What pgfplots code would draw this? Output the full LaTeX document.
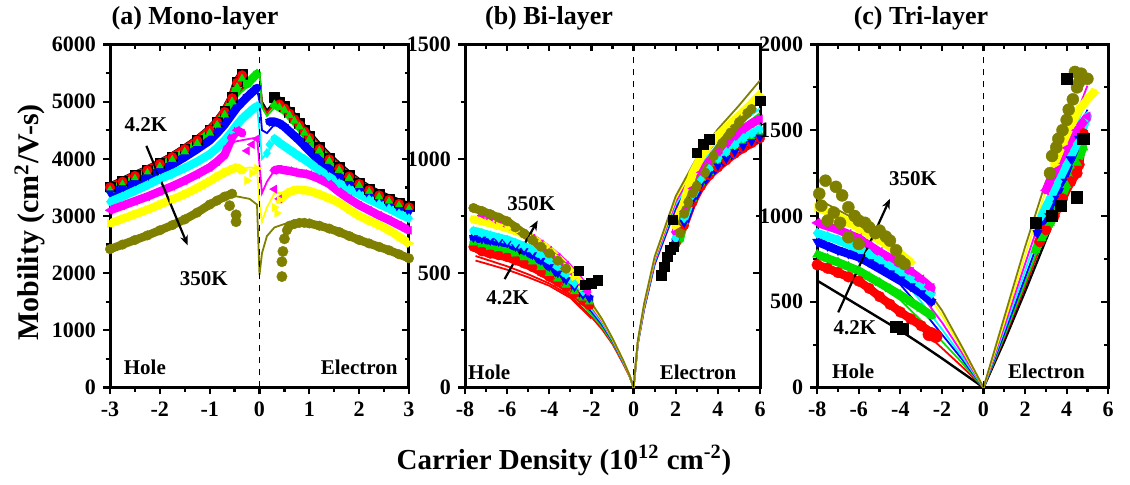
\documentclass[border=0pt]{standalone}
\usepackage{fontspec}
\setmainfont{Liberation Serif}
\usepackage{pgfplots}
\pgfplotsset{compat=1.18}
\usetikzlibrary{arrows.meta}
\definecolor{cR}{RGB}{255,0,0}
\definecolor{cG}{RGB}{0,225,0}
\definecolor{cB}{RGB}{0,0,255}
\definecolor{cC}{RGB}{0,255,255}
\definecolor{cM}{RGB}{255,0,255}
\definecolor{cY}{RGB}{255,255,0}
\definecolor{cO}{RGB}{128,128,0}
\tikzset{
  lab/.style={font=\fontsize{10.5}{10.5}\selectfont\bfseries},
  arr/.style={-{Stealth[length=5pt,width=4pt]}, line width=1.1pt, black},
}
\pgfplotsset{
  base/.style={scale only axis, height=171.5pt,
    axis line style={line width=1.5pt}, tick style={line width=1.1pt, black},
    major tick length=3.5pt, minor tick length=2.2pt,
    minor x tick num=1, minor y tick num=1, scaled ticks=false,
    /pgf/number format/1000 sep={}, /pgf/number format/assume math mode=true,
    tick label style={font=\fontsize{11}{11}\selectfont\bfseries},
    unbounded coords=jump,
    every axis plot/.append style={line width=0.9pt}},
  front/.style={base, tick align=outside, xtick pos=left, ytick pos=left},
  back/.style={base, tick align=inside, xtick pos=right, ytick pos=right, xticklabels={}, yticklabels={}},
  m0/.style={mark=square*, color=black, mark options={line width=0.2pt}},
  m1/.style={mark=*, color=cR, mark options={line width=0.2pt}},
  m2/.style={mark=triangle*, color=cG, mark options={line width=0.2pt}},
  m3/.style={mark=triangle*, color=cB, mark options={rotate=180, line width=0.2pt}},
  m4/.style={mark=diamond*, color=cC, mark options={line width=0.2pt}},
  m5/.style={mark=triangle*, color=cM, mark options={rotate=90, line width=0.2pt}},
  m6/.style={mark=triangle*, color=cY, mark options={rotate=270, line width=0.2pt}},
  m7/.style={mark=*, color=cO, mark options={line width=0.2pt}},
  sc/.style={only marks},
  bd/.style={line join=round, line cap=round},
}
\begin{document}
\begin{tikzpicture}
\path (0,0) rectangle (565pt,242pt);
% ---------------- (a) Mono-layer ----------------
\begin{axis}[back, at={(55pt,48.5pt)}, anchor=south west, width=149.5pt,
  xmin=-3, xmax=3, ymin=0, ymax=6000, xtick={-3,...,3}, ytick={0,1000,...,6000}]
\end{axis}
\begin{axis}[front, at={(55pt,48.5pt)}, anchor=south west, width=149.5pt,
  xmin=-3, xmax=3, ymin=0, ymax=6000, xtick={-3,...,3}, ytick={0,1000,...,6000},
  mark size=2.4pt, bd/.append style={line width=4.2pt}]
\addplot[black] coordinates {(-3,3520)(-2,3920)(-1,4510)(-0.5,5100)(-0.2,5350)(-0.05,5450)(0,5490)(0.05,5000)(0.15,4850)(0.3,5000)(0.5,4900)(1,4370)(2,3570)(3,3160)};
\addplot[cR] coordinates {(-3,3490)(-2,3900)(-1,4490)(-0.5,5080)(-0.2,5330)(-0.05,5440)(0,5480)(0.05,4950)(0.15,4800)(0.3,4960)(0.5,4870)(1,4360)(2,3550)(3,3140)};
\addplot[cG] coordinates {(-3,3450)(-2,3860)(-1,4450)(-0.5,5050)(-0.2,5300)(-0.05,5460)(0,5490)(0.05,4900)(0.15,4750)(0.3,4900)(0.5,4850)(1,4340)(2,3530)(3,3120)};
\addplot[cB] coordinates {(-3,3400)(-2,3790)(-1,4320)(-0.5,4850)(-0.2,5100)(-0.05,5220)(0,5000)(0.05,4500)(0.15,4450)(0.3,4600)(0.5,4560)(1,4140)(2,3440)(3,3060)};
\addplot[cC] coordinates {(-3,3250)(-2,3600)(-1,4080)(-0.5,4540)(-0.2,4800)(-0.05,4900)(0,4500)(0.05,4000)(0.15,4100)(0.3,4300)(0.5,4220)(1,3930)(2,3380)(3,2960)};
\addplot[cM] coordinates {(-3,3100)(-2,3430)(-1,3850)(-0.5,4300)(-0.2,4350)(-0.05,4370)(0,3900)(0.05,3400)(0.15,3600)(0.3,3800)(0.5,3800)(1,3720)(2,3190)(3,2750)};
\addplot[cY] coordinates {(-3,2870)(-2,3200)(-1,3610)(-0.5,3800)(-0.2,3850)(-0.05,3830)(0,3200)(0.05,2900)(0.15,3150)(0.3,3400)(0.5,3400)(1,3440)(2,3000)(3,2520)};
\addplot[cO] coordinates {(-3,2420)(-2,2750)(-1,3200)(-0.5,3350)(-0.2,3300)(-0.05,3200)(0,1970)(0.05,2350)(0.15,2650)(0.3,2800)(0.5,2860)(1,2870)(2,2580)(3,2260)};
\addplot[m0, bd] coordinates {(-3.0,3510)(-2.75,3610)(-2.5,3710)(-2.25,3810)(-2.0,3920)(-1.75,4040)(-1.5,4180)(-1.25,4330)(-1.0,4510)(-0.85,4650)(-0.7,4830)(-0.55,5075)(-0.45,5350)(-0.35,5480) (0,nan)
 (0.3,5080)(0.4,5000)(0.5,4920)(0.6,4820)(0.7,4720)(0.8,4620)(0.9,4510)(1.0,4400)(1.2,4200)(1.4,4020)(1.6,3860)(1.8,3710)(2.0,3580)(2.2,3470)(2.4,3380)(2.6,3300)(2.8,3230)(3.0,3170)};
\addplot[m1, bd] coordinates {(-3.0,3500)(-2.75,3600)(-2.5,3700)(-2.25,3800)(-2.0,3910)(-1.75,4030)(-1.5,4170)(-1.25,4320)(-1.0,4500)(-0.85,4640)(-0.7,4820)(-0.55,5060)(-0.45,5330)(-0.35,5460) (0,nan)
 (0.4,4950)(0.5,4880)(0.6,4790)(0.7,4690)(0.8,4590)(0.9,4480)(1.0,4370)(1.2,4170)(1.4,3990)(1.6,3830)(1.8,3690)(2.0,3560)(2.2,3450)(2.4,3360)(2.6,3280)(2.8,3210)(3.0,3150)};
\addplot[m2, bd] coordinates {(-3.0,3450)(-2.75,3550)(-2.5,3650)(-2.25,3750)(-2.0,3860)(-1.75,3980)(-1.5,4120)(-1.25,4270)(-1.0,4450)(-0.85,4590)(-0.7,4770)(-0.55,5000)(-0.45,5250)(-0.35,5400)(-0.25,5300)(-0.15,5400)(-0.05,5490) (0,nan)
 (0.3,4950)(0.4,4900)(0.5,4850)(0.6,4760)(0.7,4660)(0.8,4560)(0.9,4450)(1.0,4340)(1.2,4140)(1.4,3960)(1.6,3800)(1.8,3660)(2.0,3530)(2.2,3420)(2.4,3330)(2.6,3250)(2.8,3180)(3.0,3120)};
\addplot[m3, bd] coordinates {(-3.0,3400)(-2.75,3490)(-2.5,3580)(-2.25,3680)(-2.0,3790)(-1.75,3900)(-1.5,4030)(-1.25,4170)(-1.0,4320)(-0.85,4450)(-0.7,4600)(-0.55,4780)(-0.45,4900)(-0.35,4990)(-0.25,5080)(-0.15,5160)(-0.05,5240) (0,nan)
 (0.2,4650)(0.3,4650)(0.4,4620)(0.5,4560)(0.6,4480)(0.7,4400)(0.8,4320)(0.9,4230)(1.0,4140)(1.2,3970)(1.4,3820)(1.6,3680)(1.8,3550)(2.0,3440)(2.2,3340)(2.4,3250)(2.6,3170)(2.8,3110)(3.0,3060)};
\addplot[m4, bd] coordinates {(-3.0,3250)(-2.75,3340)(-2.5,3440)(-2.25,3540)(-2.0,3650)(-1.75,3740)(-1.5,3840)(-1.25,3950)(-1.0,4080)(-0.85,4190)(-0.7,4320)(-0.55,4480)(-0.45,4600)(-0.35,4700)(-0.25,4780)(-0.15,4860)(-0.05,4920) (0,nan)
 (0.3,4350)(0.4,4280)(0.5,4220)(0.6,4160)(0.7,4100)(0.8,4040)(0.9,3990)(1.0,3930)(1.2,3800)(1.4,3680)(1.6,3570)(1.8,3470)(2.0,3380)(2.2,3290)(2.4,3210)(2.6,3130)(2.8,3040)(3.0,2960)};
\addplot[m4, sc] coordinates {(0.15,4100)(0.2,4250)};
\addplot[m5, bd] coordinates {(-3.0,3100)(-2.75,3180)(-2.5,3260)(-2.25,3340)(-2.0,3430)(-1.75,3520)(-1.5,3620)(-1.25,3730)(-1.0,3850)(-0.85,3950)(-0.7,4070)(-0.55,4380)(-0.45,4500)(-0.35,4450) (0,nan)
 (0.3,3800)(0.4,3820)(0.5,3800)(0.6,3790)(0.7,3770)(0.8,3750)(0.9,3740)(1.0,3720)(1.2,3650)(1.4,3560)(1.6,3420)(1.8,3300)(2.0,3190)(2.2,3100)(2.4,3010)(2.6,2930)(2.8,2840)(3.0,2750)};
\addplot[m5, sc] coordinates {(-0.25,4140)(-0.15,4250)(-0.05,4350)(0.3,3470)(0.4,3300)};
\addplot[m6, bd] coordinates {(-3.0,2870)(-2.75,2950)(-2.5,3030)(-2.25,3110)(-2.0,3200)(-1.75,3290)(-1.5,3380)(-1.25,3490)(-1.0,3610)(-0.85,3690)(-0.7,3760)(-0.55,3820)(-0.45,3850)(-0.35,3800) (0,nan)
 (0.4,3280)(0.5,3360)(0.6,3420)(0.7,3450)(0.8,3460)(0.9,3450)(1.0,3440)(1.2,3380)(1.4,3310)(1.6,3230)(1.8,3110)(2.0,3000)(2.2,2920)(2.4,2840)(2.6,2750)(2.8,2640)(3.0,2520)};
\addplot[m6, sc] coordinates {(-0.25,3620)(-0.15,3750)(-0.05,3830)(0.3,3150)(0.35,3050)};
\addplot[m7, bd] coordinates {(-3.0,2420)(-2.75,2500)(-2.5,2580)(-2.25,2660)(-2.0,2750)(-1.75,2840)(-1.5,2940)(-1.25,3060)(-1.0,3200)(-0.85,3270)(-0.7,3340)(-0.55,3390) (0,nan)
 (0.55,2750)(0.6,2830)(0.7,2860)(0.8,2880)(0.9,2880)(1.0,2870)(1.2,2830)(1.4,2780)(1.6,2720)(1.8,2650)(2.0,2580)(2.2,2520)(2.4,2460)(2.6,2400)(2.8,2330)(3.0,2260)};
\addplot[m7, sc, mark size=2.6pt] coordinates {(-0.6,3180)(-0.47,3020)(-0.47,2900)(0.45,1940)(0.45,2200)(0.47,2380)(0.5,2600)};
\addplot[black, dashed, line width=0.8pt] coordinates {(0,0)(0,6000)};
\node[lab] at (axis cs:-2.28,4600) {4.2K};
\node[lab] at (axis cs:-1.12,1910) {350K};
\draw[arr] (axis cs:-2.27,4226) -- (axis cs:-1.44,2487);
\node[lab] at (axis cs:-2.3,350) {Hole};
\node[lab] at (axis cs:2.0,350) {Electron};
\end{axis}
% ---------------- (b) Bi-layer ----------------
\begin{axis}[back, at={(232.5pt,48.5pt)}, anchor=south west, width=147.5pt,
  xmin=-8, xmax=6, ymin=0, ymax=1500, xtick={-8,-6,...,6}, ytick={0,500,1000,1500}]
\end{axis}
\begin{axis}[front, at={(232.5pt,48.5pt)}, anchor=south west, width=147.5pt,
  xmin=-8, xmax=6, ymin=0, ymax=1500, xtick={-8,-6,...,6}, ytick={0,500,1000,1500},
  mark size=2.4pt, bd/.append style={line width=4.2pt}]
\addplot[cR] coordinates {(-7.5,575)(-7,560)(-6,530)(-5,495)(-4,455)(-3,400)(-2,308)(-1.5,255)(-1,190)(-0.5,105)(-0.2,50)(0,0)(0.2,190)(0.5,342)(1,538)(2,780)(3,930)(4,1032)(5,1105)(6,1160)};
\addplot[cR] coordinates {(-7.5,555)(-7,542)(-6,515)(-5,482)(-4,445)(-3,392)(-2,302)};
\addplot[cG] coordinates {(-7.5,600)(-7,585)(-6,555)(-5,520)(-4,475)(-3,415)(-2,320)(-1.5,265)(-1,197)(-0.5,110)(-0.2,52)(0,0)(0.2,193)(0.5,347)(1,545)(2,793)(3,945)(4,1052)(5,1130)(6,1200)};
\addplot[cB] coordinates {(-7.5,620)(-7,605)(-6,575)(-5,540)(-4,495)(-3,430)(-2,332)(-1.5,275)(-1,203)(-0.5,113)(-0.2,54)(0,0)(0.2,192)(0.5,345)(1,542)(2,788)(3,938)(4,1042)(5,1118)(6,1180)};
\addplot[cC] coordinates {(-7.5,640)(-7,625)(-6,595)(-5,558)(-4,510)(-3,445)(-2,342)(-1.5,283)(-1,207)(-0.5,115)(-0.2,55)(0,0)(0.2,195)(0.5,350)(1,550)(2,800)(3,955)(4,1065)(5,1150)(6,1220)};
\addplot[cM] coordinates {(-7.5,690)(-7,675)(-6,640)(-5,600)(-4,545)(-3,470)(-2,352)(-1.5,290)(-1,210)(-0.5,117)(-0.2,55)(0,0)(0.2,197)(0.5,355)(1,557)(2,812)(3,970)(4,1085)(5,1175)(6,1260)};
\addplot[cY] coordinates {(-7.5,700)(-7,685)(-6,650)(-5,610)(-4,555)(-3,480)(-2,360)(-1.5,295)(-1,212)(-0.5,118)(-0.2,55)(0,0)(0.2,200)(0.5,360)(1,565)(2,825)(3,990)(4,1110)(5,1205)(6,1300)};
\addplot[cO] coordinates {(-7.5,770)(-7,750)(-6,715)(-5,665)(-4,600)(-3,500)(-2,370)(-1.5,300)(-1,215)(-0.5,120)(-0.2,55)(0,0)(0.2,205)(0.5,367)(1,572)(2,837)(3,1005)(4,1130)(5,1233)(6,1343)};
\addplot[m1, bd] coordinates {(-7.6,615)(-7.2,595)(-6.8,585)(-6.4,578)(-6.0,570)(-5.6,556)(-5.2,542)(-4.8,526)(-4.4,506)(-4.0,484)(-3.6,462)(-3.2,438)(-2.8,412)(-2.4,380)(-2.1,360) (0,nan)
 (2.0,630)(2.4,710)(2.8,810)(3.2,880)(3.6,928)(4.0,962)(4.4,993)(4.8,1022)(5.2,1046)(5.6,1068)(6.0,1090)};
\addplot[m2, bd] coordinates {(-7.6,633)(-7.2,625)(-6.8,615)(-6.4,608)(-6.0,600)(-5.6,585)(-5.2,568)(-4.8,550)(-4.4,525)(-4.0,499)(-3.6,475)(-3.2,448)(-2.8,420)(-2.4,392)(-2.1,375) (0,nan)
 (1.9,620)(2.2,650)(2.4,725)(2.8,825)(3.2,895)(3.6,940)(4.0,980)(4.4,1012)(4.8,1042)(5.2,1068)(5.6,1090)(6.0,1110)};
\addplot[m3, bd] coordinates {(-7.6,655)(-7.2,648)(-6.8,642)(-6.4,637)(-6.0,631)(-5.6,615)(-5.2,598)(-4.8,580)(-4.4,555)(-4.0,528)(-3.6,500)(-3.2,470)(-2.8,440)(-2.4,405)(-2.1,390) (0,nan)
 (2.0,640)(2.4,720)(2.8,820)(3.2,890)(3.6,935)(4.0,969)(4.4,1000)(4.8,1030)(5.2,1055)(5.6,1075)(6.0,1094)};
\addplot[m4, bd] coordinates {(-7.6,685)(-7.2,675)(-6.8,665)(-6.4,655)(-6.0,646)(-5.6,632)(-5.2,618)(-4.8,602)(-4.4,580)(-4.0,558)(-3.6,530)(-3.2,495)(-2.8,455)(-2.4,420) (0,nan)
 (2.0,650)(2.4,740)(2.8,840)(3.2,910)(3.6,958)(4.0,1000)(4.4,1030)(4.8,1060)(5.2,1090)(5.6,1110)(6.0,1130)};
\addplot[m5, bd] coordinates {(-7.2,752)(-6.8,738)(-6.4,722)(-6.0,706)(-5.6,690)(-5.2,672)(-4.8,652)(-4.4,628)(-4.0,600)(-3.6,570)(-3.2,535)(-2.8,495)(-2.4,450)(-2.2,420) (0,nan)
 (2.0,680)(2.4,770)(2.8,870)(3.2,940)(3.6,990)(4.0,1030)(4.4,1065)(4.8,1100)(5.2,1130)(5.6,1155)(6.0,1174)};
\addplot[m6, bd] coordinates {(-7.6,735)(-7.2,728)(-6.8,718)(-6.4,708)(-6.0,697)(-5.6,685)(-5.2,670)(-4.8,650)(-4.4,627)(-4.0,600)(-3.6,565)(-3.2,528)(-2.8,485)(-2.4,440) (0,nan)
 (2.0,705)(2.4,810)(2.8,935)(3.2,1010)(3.6,1065)(4.0,1101)(4.4,1135)(4.8,1170)(5.2,1205)(5.6,1240)(6.0,1277)};
\addplot[m7, bd] coordinates {(-7.6,785)(-7.2,772)(-6.8,758)(-6.4,743)(-6.0,727)(-5.6,700)(-5.2,673)(-4.8,645)(-4.4,616)(-4.0,587)(-3.6,555)(-3.2,520) (0,nan)
 (2.2,675)(2.4,760)(2.6,810)(2.8,850)(3.0,881)(3.4,940)(3.8,1012)(4.2,1068)(4.6,1115)(5.0,1160)(5.4,1200)(5.6,1218)};
\addplot[m0, sc] coordinates {(-2.6,510)(-2.3,450)(-2.0,455)(-1.7,468)
 (1.3,492)(1.45,528)(1.6,572)(1.75,602)(1.9,616)(1.85,734)(3.0,1027)(3.3,1064)(3.6,1086)(6.0,1255)};
\addplot[black, dashed, line width=0.8pt] coordinates {(0,0)(0,1500)};
\node[lab] at (axis cs:-4.86,804) {350K};
\node[lab] at (axis cs:-5.97,394) {4.2K};
\draw[arr] (axis cs:-6.12,474) -- (axis cs:-4.55,730);
\node[lab] at (axis cs:-6.85,66) {Hole};
\node[lab] at (axis cs:3.06,66) {Electron};
\end{axis}
% ---------------- (c) Tri-layer ----------------
\begin{axis}[back, at={(408.6pt,48.5pt)}, anchor=south west, width=145.5pt,
  xmin=-8, xmax=6, ymin=0, ymax=2000, xtick={-8,-6,...,6}, ytick={0,500,...,2000}]
\end{axis}
\begin{axis}[front, at={(408.6pt,48.5pt)}, anchor=south west, width=145.5pt,
  xmin=-8, xmax=6, ymin=0, ymax=2000, xtick={-8,-6,...,6}, ytick={0,500,...,2000},
  mark size=2.7pt, bd/.append style={line width=4.2pt}]
\addplot[black, line width=1.2pt] coordinates {(-8,623)(-6,477)(-4,331)(-3,252)(-2,170)(-1,85)(0,0)(1,270)(2,560)(3,860)(4,1160)(4.8,1430)};
\addplot[cR] coordinates {(-8,700)(-6,600)(-4,440)(-3,340)(-2,230)(-1,118)(0,0)(1,290)(2,590)(3,900)(4,1220)(5,1500)};
\addplot[cG] coordinates {(-8,770)(-6,670)(-4,510)(-3,390)(-2,270)(-1,140)(0,0)(1,300)(2,610)(3,930)(4,1250)(5,1560)};
\addplot[cB] coordinates {(-8,840)(-6,740)(-4,600)(-3,460)(-2,310)(-1,160)(0,0)(1,315)(2,640)(3,970)(4,1310)(5,1620)};
\addplot[cC] coordinates {(-8,890)(-6,790)(-4,650)(-3,500)(-2,340)(-1,175)(0,0)(1,335)(2,680)(3,1030)(4,1380)(5,1690)};
\addplot[cM] coordinates {(-8,950)(-6,850)(-4,700)(-3,540)(-2,380)(-1,195)(0,0)(1,355)(2,720)(3,1080)(4,1440)(5,1760)};
\addplot[cY] coordinates {(-8,1040)(-6,920)(-4,770)(-3,600)(-2,420)(-1,215)(0,0)(1,380)(2,770)(3,1150)(4,1520)(5.4,1720)};
\addplot[cO] coordinates {(-8,1100)(-6,970)(-4,760)(-3,620)(-2,450)(-1,230)(0,0)(1,410)(2,820)(3,1200)(3.5,1350)};
\addplot[m1, bd] coordinates {(-8.0,715)(-7.5,695)(-7.0,670)(-6.5,645)(-6.0,620)(-5.5,578)(-5.0,530)(-4.5,485)(-4.0,440)(-3.5,400)(-3.0,360)(-2.5,320) (0,nan)
 (2.7,850)(3.0,920)(3.4,1000)(3.8,1100)(4.2,1200)(4.5,1250)(4.6,1300)(4.8,1480)};
\addplot[m1, sc, mark size=3.3pt] coordinates {(-2.3,300)(-2.6,310)};
\addplot[m2, bd] coordinates {(-8.0,775)(-7.5,752)(-7.0,730)(-6.5,705)(-6.0,680)(-5.5,645)(-5.0,610)(-4.5,575)(-4.0,540)(-3.5,500)(-3.0,460)(-2.5,420) (0,nan)
 (2.5,800)(2.8,870)(3.2,960)(3.6,1060)(4.0,1180)(4.5,1310)(4.8,1400)};
\addplot[m3, bd] coordinates {(-8.0,850)(-7.5,825)(-7.0,800)(-6.5,780)(-6.0,760)(-5.5,730)(-5.0,700)(-4.5,665)(-4.0,630)(-3.5,590)(-3.0,550)(-2.5,500) (0,nan)
 (2.6,900)(3.0,1000)(3.4,1100)(3.8,1200)(4.2,1330)(4.6,1450)};
\addplot[m4, bd] coordinates {(-8.0,900)(-7.5,880)(-7.0,860)(-6.5,835)(-6.0,810)(-5.5,780)(-5.0,750)(-4.5,715)(-4.0,680)(-3.5,640)(-3.0,600)(-2.5,550) (0,nan)
 (2.8,1000)(3.2,1100)(3.6,1200)(4.0,1300)(4.5,1420)(5.0,1580)};
\addplot[m5, bd] coordinates {(-8.0,960)(-7.5,940)(-7.0,920)(-6.5,895)(-6.0,870)(-5.5,830)(-5.0,790)(-4.5,755)(-4.0,720)(-3.5,675)(-3.0,630)(-2.5,580) (0,nan)
 (3.0,1150)(3.5,1280)(4.0,1400)(4.5,1500)(5.0,1580)};
\addplot[m6, bd] coordinates {(-8.0,1050)(-7.5,1025)(-7.0,1000)(-6.5,965)(-6.0,930)(-5.5,895)(-5.0,860)(-4.5,820)(-4.0,780)(-3.5,730) (0,nan)
 (3.4,1300)(3.8,1420)(4.2,1530)(4.6,1620)(5.0,1680)(5.3,1720)};
\addplot[m7, sc, mark size=3pt] coordinates {(-7.9,1130)(-7.6,1206)(-7.1,1170)(-6.8,1120)(-6.5,1051)(-6.2,1000)(-6.0,973)(-5.7,960)(-5.5,934)(-5.2,900)(-5.0,915)(-4.7,880)(-4.5,856)(-4.2,800)(-4.0,740)(-3.8,720)(-7.5,973)(-6.9,960)(-6.5,876)(-6.0,837)(-7.8,1060)(-7.2,1020)
 (3.2,1250)(3.3,1350)(3.5,1400)(3.6,1450)(3.8,1500)(4.0,1560)(4.1,1620)(4.3,1680)(4.5,1750)(4.6,1780)(4.7,1830)(5.0,1800)(4.4,1840)};
\addplot[m0, sc, mark size=2.8pt] coordinates {(-4.2,354)(-3.9,345)(2.5,960)(3.3,1000)(3.7,1060)(4.5,1110)(4.0,1800)(4.8,1450)};
\addplot[black, dashed, line width=0.8pt] coordinates {(0,0)(0,2000)};
\node[lab] at (axis cs:-3.39,1216) {350K};
\node[lab] at (axis cs:-6.19,350) {4.2K};
\draw[arr] (axis cs:-6.99,438) -- (axis cs:-4.5,1100);
\node[lab] at (axis cs:-6.27,97) {Hole};
\node[lab] at (axis cs:3.03,97) {Electron};
\end{axis}
% ---------------- titles and labels ----------------
\node[font=\fontsize{13}{13}\selectfont\bfseries] at (97.5pt,233pt) {(a) Mono-layer};
\node[font=\fontsize{13}{13}\selectfont\bfseries] at (274.5pt,233pt) {(b) Bi-layer};
\node[font=\fontsize{13}{13}\selectfont\bfseries] at (460.5pt,233pt) {(c) Tri-layer};
\node[font=\fontsize{14.5}{14.5}\selectfont\bfseries] at (282pt,12pt) {Carrier Density (10\textsuperscript{12} cm\textsuperscript{-2})};
\node[font=\fontsize{15}{15}\selectfont\bfseries, rotate=90] at (15pt,131pt) {Mobility (cm\textsuperscript{2}/V-s)};
\end{tikzpicture}
\end{document}
